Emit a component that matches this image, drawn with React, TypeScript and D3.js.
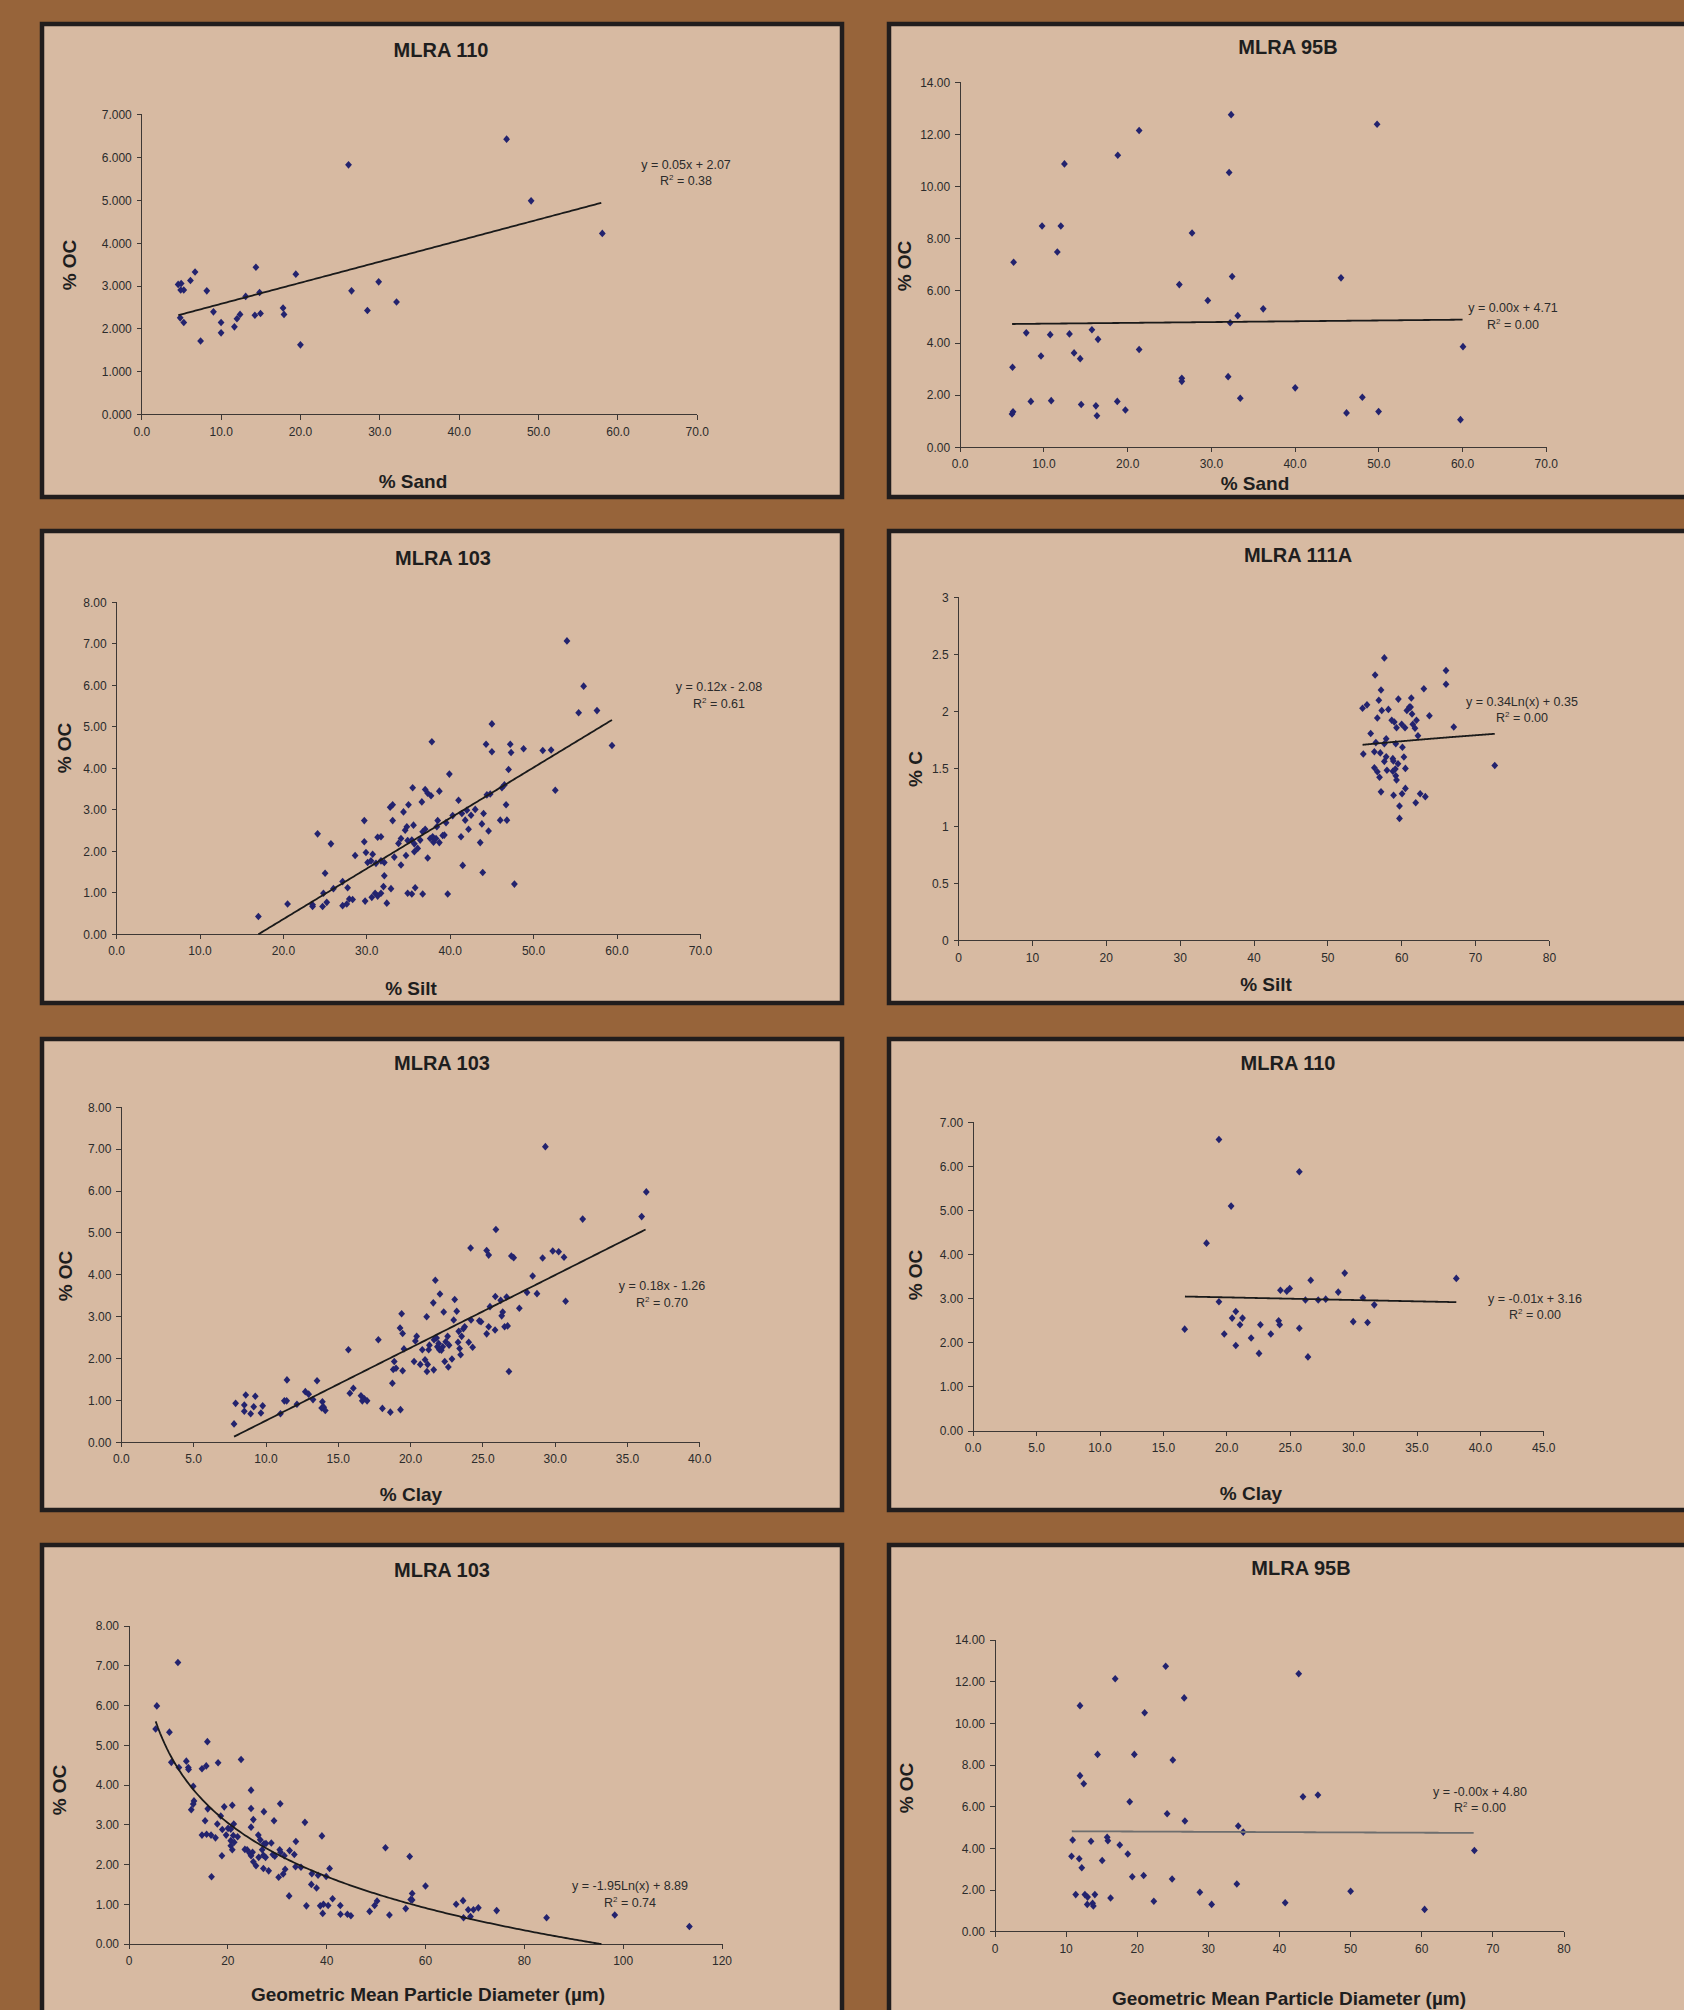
import React from "react";
import * as d3 from "d3";

const W = 1684;
const H = 2010;

type Pt = [number, number];

// ---------- DATA ----------
const sand110: Pt[] = [
  [45.97, 6.43], [26.05, 5.83], [49.06, 4.99], [58.03, 4.23], [14.38, 3.44], [6.71, 3.33],
  [19.41, 3.28], [6.13, 3.13], [29.85, 3.1], [4.58, 3.04], [4.96, 3.06], [4.9, 2.91],
  [5.29, 2.91], [8.19, 2.89], [26.43, 2.89], [14.84, 2.85], [13.09, 2.76], [32.1, 2.63],
  [17.8, 2.49], [28.43, 2.43], [9.03, 2.4], [12.38, 2.34], [14.96, 2.36], [17.92, 2.34],
  [14.25, 2.32], [11.99, 2.24], [4.84, 2.26], [9.99, 2.15], [5.29, 2.15], [11.67, 2.05],
  [9.99, 1.91], [7.41, 1.72], [19.99, 1.63],
];

const sand95B: Pt[] = [
  [32.36, 12.76], [49.79, 12.39], [21.37, 12.15], [18.82, 11.2], [12.45, 10.87], [32.12, 10.54],
  [9.78, 8.49], [12.02, 8.49], [27.69, 8.22], [11.6, 7.49], [6.38, 7.1], [26.17, 6.24],
  [32.48, 6.55], [45.48, 6.5], [29.57, 5.63], [36.19, 5.31], [33.15, 5.05], [32.24, 4.78],
  [15.73, 4.51], [7.89, 4.39], [10.75, 4.32], [13.05, 4.35], [16.46, 4.14], [21.37, 3.75],
  [60.05, 3.86], [9.65, 3.5], [13.6, 3.62], [14.33, 3.4], [6.25, 3.07], [26.47, 2.65],
  [26.47, 2.53], [32.0, 2.71], [40.01, 2.28], [48.03, 1.92], [33.45, 1.88], [8.44, 1.76],
  [10.87, 1.79], [18.76, 1.76], [14.45, 1.64], [16.21, 1.59], [19.73, 1.43], [16.33, 1.21],
  [6.19, 1.28], [6.31, 1.36], [46.14, 1.32], [49.97, 1.37], [59.75, 1.06],
];

const silt103: Pt[] = [
  [17.0, 0.43], [20.5, 0.73], [23.5, 0.71], [23.5, 0.67], [24.1, 2.42], [24.7, 0.67], [24.8, 0.99],
  [25.2, 0.77], [25.0, 1.47], [25.7, 2.18], [26.0, 1.1], [27.1, 1.27], [27.1, 0.69], [27.6, 0.73],
  [27.7, 1.12], [27.9, 0.85], [28.3, 0.84], [28.6, 1.9], [29.7, 2.74], [29.7, 2.23], [29.8, 0.8],
  [29.9, 1.97], [30.1, 1.73], [30.6, 0.89], [30.7, 1.93], [30.5, 1.77], [31.1, 1.71], [31.0, 0.99],
  [31.3, 0.92], [31.3, 2.34], [31.7, 2.35], [31.7, 0.99], [31.7, 1.77], [32.1, 1.73], [32.1, 1.41],
  [32.0, 1.15], [32.4, 0.75], [32.8, 3.06], [33.1, 3.12], [33.1, 2.74], [32.9, 1.1], [33.3, 1.86],
  [33.8, 2.19], [34.1, 2.31], [34.1, 1.67], [34.4, 2.95], [34.6, 2.51], [34.8, 2.59], [34.7, 1.9],
  [34.9, 2.26], [35.0, 3.12], [34.9, 0.99], [35.4, 0.97], [35.5, 3.53], [35.6, 2.63], [35.4, 2.27],
  [35.7, 2.18], [35.7, 1.99], [35.8, 1.12], [36.1, 2.07], [36.4, 2.27], [36.6, 3.19], [36.7, 0.97],
  [36.7, 2.47], [37.0, 3.49], [37.0, 2.53], [37.3, 3.4], [37.3, 1.84], [37.7, 3.34], [37.6, 2.31],
  [37.8, 4.64], [37.9, 2.35], [38.0, 2.22], [38.3, 2.31], [38.4, 2.59], [38.5, 2.74], [38.7, 2.21],
  [38.7, 3.45], [39.1, 2.38], [39.3, 2.39], [39.5, 2.69], [39.7, 0.97], [39.9, 3.86], [40.3, 2.86],
  [41.0, 3.23], [41.3, 2.35], [41.5, 1.66], [41.4, 2.91], [41.8, 2.75], [42.0, 2.99], [42.2, 2.53],
  [42.5, 2.87], [43.0, 3.01], [43.6, 2.21], [43.8, 2.66], [43.9, 1.49], [44.0, 2.91], [44.3, 4.58],
  [44.4, 3.36], [44.6, 2.49], [44.8, 3.38], [45.0, 5.07], [45.0, 4.4], [46.0, 2.75], [46.2, 3.53],
  [46.5, 3.6], [46.7, 3.12], [46.8, 2.75], [47.0, 3.97], [47.2, 4.58], [47.3, 4.38], [47.7, 1.21],
  [48.8, 4.47], [51.1, 4.43], [52.1, 4.44], [52.6, 3.47], [54.0, 7.07], [55.4, 5.34], [56.0, 5.98],
  [57.6, 5.39], [59.4, 4.55],
];

const silt111A: Pt[] = [
  [57.65, 2.47], [56.4, 2.32], [66.0, 2.36], [66.0, 2.24], [57.2, 2.19], [63.0, 2.2], [56.9, 2.1],
  [59.55, 2.11], [61.3, 2.12], [54.7, 2.03], [55.3, 2.06], [57.3, 2.01], [58.2, 2.02], [61.04, 2.04],
  [60.7, 2.01], [61.2, 2.04], [61.4, 1.98], [63.75, 1.965], [56.7, 1.945], [58.65, 1.925], [59.0, 1.91],
  [62.0, 1.925], [61.5, 1.89], [60.0, 1.89], [60.45, 1.86], [59.3, 1.86], [61.8, 1.855], [67.05, 1.866],
  [55.8, 1.81], [62.2, 1.79], [57.9, 1.764], [56.5, 1.73], [57.65, 1.72], [59.2, 1.72], [60.1, 1.69],
  [54.8, 1.63], [56.3, 1.65], [57.1, 1.64], [57.9, 1.607], [60.3, 1.604], [58.8, 1.59], [57.65, 1.566],
  [58.87, 1.57], [59.5, 1.546], [56.3, 1.51], [56.7, 1.476], [58.0, 1.488], [58.8, 1.48], [59.14, 1.5],
  [60.5, 1.505], [57.0, 1.427], [59.2, 1.44], [59.3, 1.403], [60.5, 1.33], [57.2, 1.3], [58.9, 1.27],
  [60.05, 1.284], [62.5, 1.284], [63.2, 1.258], [59.7, 1.176], [61.9, 1.205], [59.7, 1.068], [72.6, 1.53],
];

const clay103: Pt[] = [
  [7.79, 0.44], [7.9, 0.93], [8.5, 0.89], [8.5, 0.74], [8.6, 1.13], [8.94, 0.68], [9.15, 0.85],
  [9.26, 1.1], [9.65, 0.7], [9.77, 0.87], [11.0, 0.68], [11.27, 0.99], [11.43, 0.99], [11.45, 1.49],
  [12.14, 0.91], [12.72, 1.21], [12.95, 1.15], [13.25, 1.02], [13.53, 1.47], [13.9, 0.97], [13.85, 0.82],
  [13.99, 0.84], [14.1, 0.76], [15.7, 2.21], [15.8, 1.17], [16.04, 1.29], [16.57, 1.11], [16.66, 0.99],
  [16.8, 1.04], [16.99, 0.99], [17.77, 2.45], [18.05, 0.81], [18.6, 0.72], [18.74, 1.41], [18.8, 1.74],
  [18.87, 1.93], [18.99, 1.77], [19.27, 2.73], [19.3, 0.78], [19.38, 3.07], [19.45, 2.6], [19.45, 1.71],
  [19.54, 2.23], [20.24, 1.93], [20.33, 2.42], [20.42, 2.53], [20.67, 1.86], [20.81, 2.21], [21.0, 1.97],
  [21.11, 3.0], [21.13, 1.69], [21.18, 1.86], [21.25, 2.21], [21.3, 2.32], [21.57, 3.33], [21.6, 1.73],
  [21.62, 2.45], [21.71, 3.87], [21.8, 2.49], [21.85, 2.28], [21.94, 2.36], [22.03, 3.54], [21.99, 2.21],
  [22.13, 2.2], [22.22, 2.28], [22.29, 3.11], [22.36, 1.93], [22.43, 2.4], [22.56, 2.53], [22.61, 1.8],
  [22.66, 2.32], [22.86, 1.99], [22.98, 2.92], [23.05, 3.41], [23.19, 3.13], [23.28, 2.39], [23.33, 2.65],
  [23.39, 2.24], [23.46, 2.09], [23.53, 2.53], [23.65, 2.71], [23.74, 2.76], [24.02, 2.39], [24.15, 4.64],
  [24.18, 2.92], [24.29, 2.27], [24.75, 2.9], [24.87, 2.88], [25.26, 2.59], [25.26, 4.58], [25.4, 4.47],
  [25.4, 2.76], [25.49, 3.24], [25.84, 2.68], [25.86, 3.48], [25.9, 5.08], [26.23, 3.39], [26.3, 3.02],
  [26.37, 3.11], [26.5, 2.76], [26.64, 3.47], [26.71, 2.78], [26.8, 1.69], [26.97, 4.45], [27.13, 4.41],
  [27.52, 3.2], [28.05, 3.58], [28.44, 3.97], [28.74, 3.55], [29.13, 4.4], [29.32, 7.06], [29.83, 4.57],
  [30.24, 4.55], [30.61, 4.42], [30.72, 3.37], [31.9, 5.33], [35.98, 5.39], [36.3, 5.98],
];

const clay110: Pt[] = [
  [19.38, 6.61], [25.72, 5.88], [20.34, 5.1], [18.4, 4.26], [29.3, 3.58], [38.1, 3.46], [26.62, 3.42],
  [24.23, 3.19], [24.73, 3.17], [24.96, 3.23], [28.79, 3.15], [30.73, 3.02], [26.2, 2.97], [27.21, 2.97],
  [27.8, 2.99], [19.38, 2.93], [31.63, 2.86], [20.71, 2.71], [20.42, 2.56], [21.24, 2.56], [24.09, 2.5],
  [21.04, 2.41], [22.65, 2.41], [24.17, 2.41], [29.97, 2.48], [31.1, 2.46], [16.68, 2.31], [25.72, 2.33],
  [19.8, 2.2], [23.47, 2.2], [21.92, 2.11], [20.71, 1.94], [22.54, 1.76], [26.4, 1.68],
];

const gmpd103: Pt[] = [
  [5.63, 5.99], [5.39, 5.41], [9.9, 7.08], [8.18, 5.33], [8.57, 4.57], [10.1, 4.44], [11.6, 4.6],
  [12.0, 4.44], [12.06, 4.39], [15.86, 5.09], [14.77, 4.41], [15.63, 4.48], [18.03, 4.56], [22.68, 4.64],
  [13.0, 3.97], [13.15, 3.6], [13.0, 3.52], [12.6, 3.38], [15.94, 3.4], [15.4, 3.1], [18.57, 3.22],
  [19.27, 3.45], [20.9, 3.49], [24.7, 3.87], [24.7, 3.41], [27.3, 3.33], [30.6, 3.53], [25.16, 3.13],
  [29.35, 3.1], [35.6, 3.06], [17.87, 3.02], [18.88, 2.88], [20.05, 2.91], [20.6, 2.89], [21.2, 3.02],
  [24.7, 2.94], [14.77, 2.74], [15.7, 2.76], [16.6, 2.74], [17.5, 2.67], [19.66, 2.74], [21.1, 2.73],
  [21.98, 2.7], [20.6, 2.6], [21.29, 2.56], [20.6, 2.47], [20.9, 2.37], [18.8, 2.22], [26.17, 2.74],
  [26.56, 2.62], [27.33, 2.52], [27.72, 2.53], [28.8, 2.54], [23.45, 2.38], [23.9, 2.37], [24.46, 2.28],
  [25.0, 2.31], [24.7, 2.22], [26.95, 2.37], [27.2, 2.23], [26.25, 2.18], [27.64, 2.18], [29.1, 2.25],
  [29.5, 2.21], [30.5, 2.37], [30.67, 2.31], [31.44, 2.22], [32.5, 2.35], [33.45, 2.25], [33.77, 2.58],
  [25.16, 2.07], [25.7, 1.97], [27.2, 1.9], [28.26, 1.84], [31.6, 1.88], [31.2, 1.76], [30.28, 1.68],
  [33.7, 1.945], [34.8, 1.93], [16.7, 1.69], [32.4, 1.21], [37.0, 1.77], [38.26, 1.73], [39.04, 2.72],
  [39.9, 1.7], [40.6, 1.9], [36.9, 1.5], [37.95, 1.41], [35.9, 0.96], [38.7, 0.96], [39.35, 1.0],
  [40.3, 0.97], [41.2, 1.14], [39.2, 0.77], [42.76, 0.97], [42.8, 0.75], [44.2, 0.75], [44.9, 0.71],
  [48.7, 0.82], [49.7, 0.97], [50.2, 1.08], [51.9, 2.42], [52.7, 0.73], [56.0, 0.89], [56.8, 2.2],
  [57.0, 1.12], [57.3, 1.27], [57.3, 1.11], [60.0, 1.46], [66.2, 1.0], [67.6, 1.09], [68.65, 0.86],
  [69.7, 0.86], [70.7, 0.91], [67.7, 0.66], [69.1, 0.69], [74.4, 0.84], [84.5, 0.66], [98.3, 0.73],
  [113.4, 0.44],
];

const gmpd95B: Pt[] = [
  [24.0, 12.74], [42.7, 12.38], [16.9, 12.14], [26.6, 11.22], [11.95, 10.85], [21.04, 10.51],
  [14.42, 8.51], [19.59, 8.51], [25.0, 8.24], [11.95, 7.49], [12.48, 7.1], [18.94, 6.24], [43.3, 6.48],
  [45.4, 6.56], [24.2, 5.66], [26.7, 5.31], [34.2, 5.07], [34.9, 4.78], [10.92, 4.4], [13.5, 4.34],
  [15.77, 4.53], [15.87, 4.37], [17.54, 4.16], [18.67, 3.73], [10.76, 3.62], [11.84, 3.5], [15.07, 3.42],
  [12.2, 3.07], [67.4, 3.9], [19.3, 2.64], [20.9, 2.7], [24.9, 2.53], [34.0, 2.29], [11.35, 1.78],
  [12.64, 1.78], [13.02, 1.66], [14.04, 1.78], [16.25, 1.62], [12.97, 1.31], [13.72, 1.36], [13.83, 1.23],
  [22.33, 1.46], [28.8, 1.89], [30.46, 1.31], [40.8, 1.39], [50.0, 1.94], [60.4, 1.07],
];

// trend lines: kind, slope/coef, intercept, x-range
type Trend = { kind: "lin" | "log"; a: number; b: number; x0: number; x1: number };
const trendSand110: Trend = { kind: "lin", a: 0.0492, b: 2.095, x0: 4.6, x1: 57.9 };
const trendSand95B: Trend = { kind: "lin", a: 0.0031, b: 4.71, x0: 6.2, x1: 60.0 };
const trendSilt103: Trend = { kind: "lin", a: 0.1218, b: -2.07, x0: 17.0, x1: 59.4 };
const trendSilt111A: Trend = { kind: "log", a: 0.34, b: 0.35, x0: 54.7, x1: 72.6 };
const trendClay103: Trend = { kind: "lin", a: 0.1738, b: -1.219, x0: 7.79, x1: 36.25 };
const trendClay110: Trend = { kind: "lin", a: -0.006, b: 3.15, x0: 16.7, x1: 38.1 };
const trendGmpd103: Trend = { kind: "log", a: -1.95, b: 8.89, x0: 5.4, x1: 95.6 };
const trendGmpd95B: Trend = { kind: "lin", a: -0.0014, b: 4.835, x0: 10.8, x1: 67.3 };

const titles = ["MLRA 110", "MLRA 95B", "MLRA 103", "MLRA 111A", "MLRA 103", "MLRA 110", "MLRA 103", "MLRA 95B"];
const xLabels = ["% Sand", "% Sand", "% Silt", "% Silt", "% Clay", "% Clay", "Geometric Mean Particle Diameter (µm)", "Geometric Mean Particle Diameter (µm)"];
const yLabels = ["% OC", "% OC", "% OC", "% C", "% OC", "% OC", "% OC", "% OC"];
const equations = [
  "y = 0.05x + 2.07", "y = 0.00x + 4.71", "y = 0.12x - 2.08", "y = 0.34Ln(x) + 0.35",
  "y = 0.18x - 1.26", "y = -0.01x + 3.16", "y = -1.95Ln(x) + 8.89", "y = -0.00x + 4.80",
];
const r2Values = ["0.38", "0.00", "0.61", "0.00", "0.70", "0.00", "0.74", "0.00"];

// ---------- LAYOUT ----------
const BG = "#97643A";
const PANEL = "#D7BAA2";
const BORDER = "#211d1d";
const MARK = "#23236E";
const TXT = "#2b2b2b";
const FONT = "'Liberation Sans', Arial, Helvetica, sans-serif";

type Layout = {
  box: [number, number, number, number];
  plot: [number, number, number, number]; // left, right, bottom, top (px)
  xDom: [number, number]; xStep: number; xFmt: string;
  yDom: [number, number]; yStep: number; yFmt: string;
  title: [number, number]; xl: [number, number]; yl: [number, number]; eq: [number, number];
  trendColor: string;
};

const layouts: Layout[] = [
  { box: [40, 22, 804, 477], plot: [141.8, 697.3, 414.7, 114.7], xDom: [0, 70], xStep: 10, xFmt: ".1f", yDom: [0, 7], yStep: 1, yFmt: ".3f",
    title: [441, 57], xl: [413, 488], yl: [69, 265], eq: [686, 168.5], trendColor: "#1a1a1a" },
  { box: [887, 22, 900, 477], plot: [960.2, 1546.3, 447.3, 82.3], xDom: [0, 70], xStep: 10, xFmt: ".1f", yDom: [0, 14], yStep: 2, yFmt: ".2f",
    title: [1288, 54], xl: [1255, 490], yl: [904, 266], eq: [1513, 312], trendColor: "#1a1a1a" },
  { box: [40, 529, 804, 476], plot: [116.6, 700.4, 934.3, 602.3], xDom: [0, 70], xStep: 10, xFmt: ".1f", yDom: [0, 8], yStep: 1, yFmt: ".2f",
    title: [443, 565], xl: [411, 995], yl: [64, 748], eq: [719, 691], trendColor: "#1a1a1a" },
  { box: [887, 529, 900, 476], plot: [958.6, 1549.4, 940.7, 597.2], xDom: [0, 80], xStep: 10, xFmt: "d", yDom: [0, 3], yStep: 0.5, yFmt: "~g",
    title: [1298, 562], xl: [1266, 991], yl: [915, 769], eq: [1522, 705.5], trendColor: "#1a1a1a" },
  { box: [40, 1037, 804, 475], plot: [121.4, 699.8, 1442.3, 1107.3], xDom: [0, 40], xStep: 5, xFmt: ".1f", yDom: [0, 8], yStep: 1, yFmt: ".2f",
    title: [442, 1070], xl: [411, 1501], yl: [65, 1276], eq: [662, 1290], trendColor: "#1a1a1a" },
  { box: [887, 1037, 900, 475], plot: [973.2, 1543.8, 1431, 1122.3], xDom: [0, 45], xStep: 5, xFmt: ".1f", yDom: [0, 7], yStep: 1, yFmt: ".2f",
    title: [1288, 1070], xl: [1251, 1500], yl: [915, 1275], eq: [1535, 1302.5], trendColor: "#1a1a1a" },
  { box: [40, 1543, 804, 600], plot: [129, 722, 1944, 1626], xDom: [0, 120], xStep: 20, xFmt: "d", yDom: [0, 8], yStep: 1, yFmt: ".2f",
    title: [442, 1577], xl: [428, 2001], yl: [59, 1790], eq: [630, 1890], trendColor: "#1a1a1a" },
  { box: [887, 1543, 900, 600], plot: [995, 1564, 1931.7, 1640], xDom: [0, 80], xStep: 10, xFmt: "d", yDom: [0, 14], yStep: 2, yFmt: ".2f",
    title: [1301, 1575], xl: [1289, 2005], yl: [906, 1788], eq: [1480, 1795.5], trendColor: "#6e6e6e" },
];

const datasets: Pt[][] = [sand110, sand95B, silt103, silt111A, clay103, clay110, gmpd103, gmpd95B];
const trends: Trend[] = [trendSand110, trendSand95B, trendSilt103, trendSilt111A, trendClay103, trendClay110, trendGmpd103, trendGmpd95B];

function trendFn(t: Trend) {
  return (x: number) => (t.kind === "lin" ? t.a * x + t.b : t.a * Math.log(x) + t.b);
}

// Excel-style diamond marker (nearly square)
const MW = 3.4;
const MH = 3.8;
const diamond = `M0,${-MH}L${MW},0L0,${MH}L${-MW},0Z`;

function Panel({ i }: { i: number }) {
  const L = layouts[i];
  const data = datasets[i];
  const t = trends[i];
  const x = d3.scaleLinear().domain(L.xDom).range([L.plot[0], L.plot[1]]);
  const y = d3.scaleLinear().domain(L.yDom).range([L.plot[2], L.plot[3]]);
  const xTicks = d3.range(L.xDom[0], L.xDom[1] + 1e-9, L.xStep);
  const yTicks = d3.range(L.yDom[0], L.yDom[1] + 1e-9, L.yStep);
  const xf = d3.format(L.xFmt);
  const yf = d3.format(L.yFmt);
  const f = trendFn(t);
  const samples = d3.range(0, 201).map((k) => t.x0 + ((t.x1 - t.x0) * k) / 200);
  const line = d3
    .line<number>()
    .x((v) => x(v))
    .y((v) => y(Math.max(f(v), L.yDom[0])))(samples) as string;
  const [bx, by, bw, bh] = L.box;
  return (
    <g>
      <rect x={bx + 2} y={by + 2} width={bw - 4} height={bh - 4} fill={PANEL} stroke={BORDER} strokeWidth={4.5} />
      <text x={L.title[0]} y={L.title[1]} textAnchor="middle" fontFamily={FONT} fontWeight="bold" fontSize={20} fill="#1e1e1e">
        {titles[i]}
      </text>
      {/* axes */}
      <g stroke="#3d3835" strokeWidth={1} shapeRendering="crispEdges">
        <line x1={L.plot[0]} x2={L.plot[0]} y1={L.plot[2]} y2={L.plot[3]} />
        <line x1={L.plot[0]} x2={L.plot[1]} y1={L.plot[2]} y2={L.plot[2]} />
        {yTicks.map((v) => (
          <line key={"yt" + v} x1={L.plot[0] - 5} x2={L.plot[0]} y1={y(v)} y2={y(v)} />
        ))}
        {xTicks.map((v) => (
          <line key={"xt" + v} x1={x(v)} x2={x(v)} y1={L.plot[2]} y2={L.plot[2] + 5} />
        ))}
      </g>
      <g fontFamily={FONT} fontSize={12} fill={TXT}>
        {yTicks.map((v) => (
          <text key={"yl" + v} x={L.plot[0] - 10} y={y(v)} dy="0.36em" textAnchor="end">
            {yf(v)}
          </text>
        ))}
        {xTicks.map((v) => (
          <text key={"xl" + v} x={x(v)} y={L.plot[2] + 21} textAnchor="middle">
            {xf(v)}
          </text>
        ))}
      </g>
      {/* points */}
      <g fill={MARK}>
        {data.map((d, k) => (
          <path key={k} d={diamond} transform={`translate(${x(d[0])},${y(d[1])})`} />
        ))}
      </g>
      <path d={line} fill="none" stroke={L.trendColor} strokeWidth={1.8} />
      {/* equation */}
      <g fontFamily={FONT} fontSize={12.5} fill={TXT} textAnchor="middle">
        <text x={L.eq[0]} y={L.eq[1]}>{equations[i]}</text>
        <text x={L.eq[0]} y={L.eq[1] + 16.5}>
          R<tspan fontSize={8} dy={-5}>2</tspan>
          <tspan dy={5}>{" = " + r2Values[i]}</tspan>
        </text>
      </g>
      <text x={L.xl[0]} y={L.xl[1]} textAnchor="middle" fontFamily={FONT} fontWeight="bold" fontSize={19} fill="#1e1e1e">
        {xLabels[i]}
      </text>
      <text
        transform={`translate(${L.yl[0]},${L.yl[1]}) rotate(-90)`}
        textAnchor="middle"
        dy="0.35em"
        fontFamily={FONT}
        fontWeight="bold"
        fontSize={19}
        fill="#1e1e1e"
      >
        {yLabels[i]}
      </text>
    </g>
  );
}

export default function App() {
  return (
    <svg
      width={W}
      height={H}
      viewBox={`0 0 ${W} ${H}`}
      style={{ position: "absolute", left: 0, top: 0, display: "block" }}
    >
      <rect x={0} y={0} width={W} height={H} fill={BG} />
      {layouts.map((_, i) => (
        <Panel key={i} i={i} />
      ))}
    </svg>
  );
}
